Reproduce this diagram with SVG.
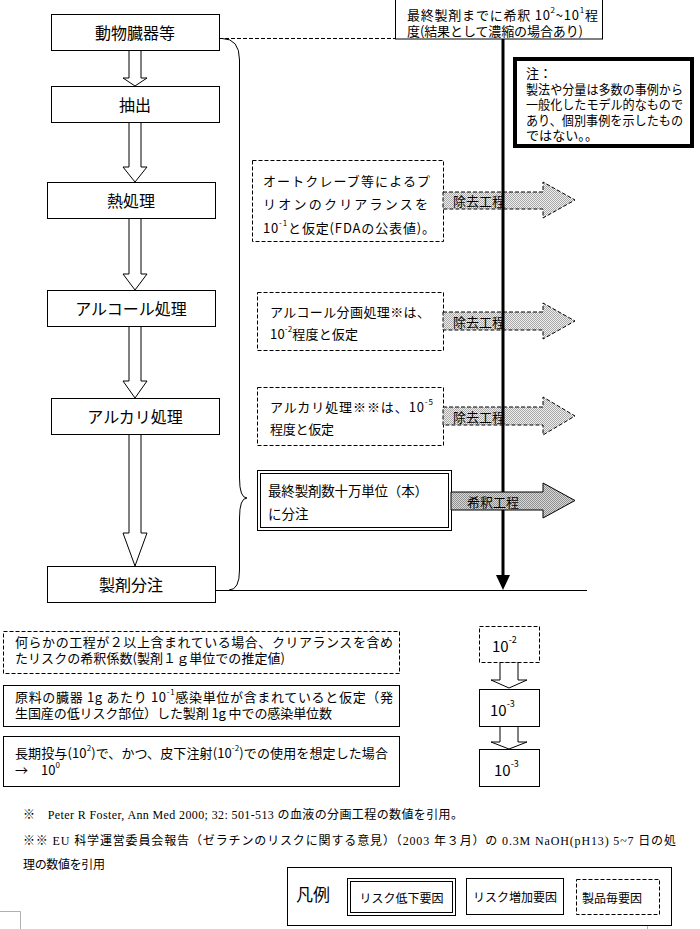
<svg xmlns="http://www.w3.org/2000/svg" width="700" height="929" viewBox="0 0 700 929">
<style>
.box{fill:#fff;stroke:#000;stroke-width:1}
.dash{fill:#fff;stroke:#000;stroke-width:1;stroke-dasharray:4 2}
.hol{fill:#fff;stroke:#000;stroke-width:1}
.t{font-family:"Noto Sans CJK JP","Noto Sans CJK SC",sans-serif;fill:#000}
.m{font-size:16px;text-anchor:middle}
.s13{font-size:13px}
.s12{font-size:12px}
.sup{font-size:8px;baseline-shift:5px}
.sup9{font-size:9px;baseline-shift:6px}
.fn{font-family:"Liberation Serif","Noto Sans CJK JP",serif;font-size:12px;fill:#000}
.crop{stroke:#b0b0b0;stroke-width:1;fill:none}
</style>
<defs>
<pattern id="dotsL" width="2" height="2" patternUnits="userSpaceOnUse"><rect width="2" height="2" fill="#eeeeee"/><rect width="1" height="1" fill="#a8a8a8"/><rect x="1" y="1" width="1" height="1" fill="#a8a8a8"/></pattern>
<pattern id="dotsD" width="2" height="2" patternUnits="userSpaceOnUse"><rect width="2" height="2" fill="#d8d8d8"/><rect width="1" height="1" fill="#909090"/><rect x="1" y="1" width="1" height="1" fill="#909090"/></pattern>
</defs>
<rect width="700" height="929" fill="#fff"/>

<!-- crop marks -->
<path class="crop" d="M0 911.5H20.5V929M647.5 914V929M659 908.5H671"/>

<!-- connectors -->
<g id="connectors">
<polygon class="hol" points="129,50 141,50 141,78 147,78 135,86 123,78 129,78"/>
<polygon class="hol" points="129,122 141,122 141,167 147,167 135,182 123,167 129,167"/>
<polygon class="hol" points="129,218 141,218 141,274 147,274 135,290 123,274 129,274"/>
<polygon class="hol" points="129,326 141,326 141,381 147,381 135,398 123,381 129,381"/>
<polygon class="hol" points="129,434 141,434 141,533 147,533 135,566 123,533 129,533"/>
<line x1="219" y1="38.5" x2="395" y2="38.5" stroke="#000" stroke-width="1" stroke-dasharray="4 2"/>
<path d="M222 38.5Q239.5 38.5 239.5 60V478Q239.5 498 247 498Q239.5 498 239.5 518V570Q239.5 590 229 590" fill="none" stroke="#000" stroke-width="1"/>
<line x1="215" y1="590.5" x2="587" y2="590.5" stroke="#000" stroke-width="1"/>
<polygon class="hol" points="500,662 518,662 518,680 527,680 509,688 491,680 500,680"/>
<polygon class="hol" points="500,726 518,726 518,742 527,742 509,749 491,742 500,742"/>
</g>

<!-- left column -->
<g id="n-animal"><rect class="box" x="51.5" y="14.5" width="168" height="36"/><text class="t m" x="135" y="32" dominant-baseline="central">動物臓器等</text></g>
<g id="n-extract"><rect class="box" x="51.5" y="86.5" width="168" height="36"/><text class="t m" x="135" y="104" dominant-baseline="central">抽出</text></g>
<g id="n-heat"><rect class="box" x="47.5" y="182.5" width="168" height="36"/><text class="t m" x="131" y="200" dominant-baseline="central">熱処理</text></g>
<g id="n-alcohol"><rect class="box" x="47.5" y="290.5" width="168" height="36"/><text class="t m" x="131" y="308" dominant-baseline="central">アルコール処理</text></g>
<g id="n-alkali"><rect class="box" x="51.5" y="398.5" width="168" height="36"/><text class="t m" x="135" y="416" dominant-baseline="central">アルカリ処理</text></g>
<g id="n-fill"><rect class="box" x="47.5" y="566.5" width="168" height="36"/><text class="t m" x="131" y="584" dominant-baseline="central">製剤分注</text></g>

<!-- top right box -->
<g id="n-dilution-note"><rect class="box" x="395.5" y="-2" width="207" height="41"/>
<text class="t" font-size="13" x="407" y="14" dominant-baseline="central" textLength="191" lengthAdjust="spacing">最終製剤までに希釈 10<tspan class="sup">2</tspan>~10<tspan class="sup">1</tspan>程</text>
<text class="t" font-size="13" x="407" y="30" dominant-baseline="central" textLength="176" lengthAdjust="spacing">度(結果として濃縮の場合あり)</text>
</g>

<!-- note box -->
<g id="n-note"><rect x="515" y="59" width="177" height="87" fill="#fff" stroke="#000" stroke-width="4"/>
<text class="t s13" x="526" y="72" dominant-baseline="central">注：</text>
<text class="t s13" x="526" y="88" dominant-baseline="central" textLength="157" lengthAdjust="spacingAndGlyphs">製法や分量は多数の事例から</text>
<text class="t s13" x="526" y="103.5" dominant-baseline="central" textLength="157" lengthAdjust="spacingAndGlyphs">一般化したモデル的なもので</text>
<text class="t s13" x="526" y="119" dominant-baseline="central" textLength="157" lengthAdjust="spacingAndGlyphs">あり、個別事例を示したもの</text>
<text class="t s13" x="526" y="134.5" dominant-baseline="central" textLength="72" lengthAdjust="spacingAndGlyphs">ではない。。</text>
</g>

<!-- dashed boxes -->
<g id="n-autoclave"><rect class="dash" x="252.5" y="160.5" width="191" height="81"/>
<text class="t s13" x="263" y="180" dominant-baseline="central" textLength="167" lengthAdjust="spacing">オートクレーブ等によるプ</text>
<text class="t s13" x="263" y="203" dominant-baseline="central" textLength="165" lengthAdjust="spacing">リオンのクリアランスを</text>
<text class="t s13" x="263" y="227" dominant-baseline="central" textLength="172" lengthAdjust="spacing">10<tspan class="sup">-1</tspan>と仮定(FDAの公表値)。</text>
</g>
<g id="n-alcohol-frac"><rect class="dash" x="257.5" y="292.5" width="186" height="58"/>
<text class="t s13" x="270" y="311" dominant-baseline="central" textLength="160" lengthAdjust="spacing">アルコール分画処理※は、</text>
<text class="t s13" x="270" y="333" dominant-baseline="central" textLength="88" lengthAdjust="spacing">10<tspan class="sup">-2</tspan>程度と仮定</text>
</g>
<g id="n-alkali-proc"><rect class="dash" x="257.5" y="387.5" width="186" height="58"/>
<text class="t s13" x="270" y="406" dominant-baseline="central" textLength="163" lengthAdjust="spacing">アルカリ処理※※は、10<tspan class="sup">-5</tspan></text>
<text class="t s13" x="270" y="428" dominant-baseline="central" textLength="64" lengthAdjust="spacing">程度と仮定</text>
</g>

<!-- removal arrows -->
<g id="e-removal-1"><polygon points="443,192 543,192 543,182 575,200 543,218 543,209 443,209" fill="url(#dotsL)" stroke="#000" stroke-width="1" stroke-dasharray="4 2"/><text class="t s13" x="453" y="200" dominant-baseline="central">除去工程</text></g>
<g id="e-removal-2"><polygon points="443,312 543,312 543,303 575,321 543,339 543,330 443,330" fill="url(#dotsL)" stroke="#000" stroke-width="1" stroke-dasharray="4 2"/><text class="t s13" x="453" y="321" dominant-baseline="central">除去工程</text></g>
<g id="e-removal-3"><polygon points="443,407 543,407 543,397 575,416 543,435 543,425 443,425" fill="url(#dotsL)" stroke="#000" stroke-width="1" stroke-dasharray="4 2"/><text class="t s13" x="453" y="416" dominant-baseline="central">除去工程</text></g>

<!-- thick vertical line -->
<g id="e-main-line">
<line x1="503" y1="39" x2="503" y2="577" stroke="#000" stroke-width="3"/>
<polygon points="496,575 510,575 503,590" fill="#000"/>
</g>

<!-- final filling box -->
<g id="n-final"><rect class="box" x="257.5" y="470.5" width="194" height="60"/><rect class="box" x="260.5" y="473.5" width="188" height="54"/>
<text class="t" font-size="13.5" x="268" y="490" dominant-baseline="central" textLength="160" lengthAdjust="spacing">最終製剤数十万単位（本）</text>
<text class="t" font-size="13.5" x="268" y="513" dominant-baseline="central">に分注</text>
</g>
<g id="e-dilution"><polygon points="451,492 543,492 543,483 575,500.5 543,518 543,510 451,510" fill="url(#dotsD)" stroke="#000" stroke-width="1"/><text class="t s13" x="467" y="501" dominant-baseline="central">希釈工程</text></g>

<!-- bottom left boxes -->
<g id="n-risk-dilution"><rect class="dash" x="3.5" y="631.5" width="396" height="42"/>
<text class="t s13" x="15" y="641" dominant-baseline="central" textLength="378" lengthAdjust="spacing">何らかの工程が２以上含まれている場合、クリアランスを含め</text>
<text class="t s13" x="15" y="657" dominant-baseline="central" textLength="270" lengthAdjust="spacing">たリスクの希釈係数(製剤１ｇ単位での推定値)</text>
</g>
<g id="n-infect-units"><rect class="box" x="3.5" y="685.5" width="396" height="41"/>
<text class="t s13" x="15" y="696" dominant-baseline="central" textLength="378" lengthAdjust="spacing">原料の臓器 1g あたり 10<tspan class="sup">-1</tspan>感染単位が含まれていると仮定（発</text>
<text class="t s13" x="15" y="712" dominant-baseline="central" textLength="317" lengthAdjust="spacing">生国産の低リスク部位）した製剤 1g 中での感染単位数</text>
</g>
<g id="n-long-term"><rect class="box" x="3.5" y="736.5" width="396" height="50"/>
<text class="t s13" x="15" y="752" dominant-baseline="central" textLength="373" lengthAdjust="spacing">長期投与(10<tspan class="sup">2</tspan>)で、かつ、皮下注射(10<tspan class="sup">-2</tspan>)での使用を想定した場合</text>
<text class="t s13" x="15" y="769" dominant-baseline="central">→　10<tspan class="sup">0</tspan></text>
</g>

<!-- bottom right boxes -->
<g id="n-v1"><rect class="dash" x="479.5" y="626.5" width="60" height="36"/><text class="t" font-size="15" x="492" y="645" dominant-baseline="central">10<tspan class="sup9">-2</tspan></text></g>
<g id="n-v2"><rect class="box" x="479.5" y="689.5" width="60" height="37"/><text class="t" font-size="15" x="490" y="709" dominant-baseline="central">10<tspan class="sup9">-3</tspan></text></g>
<g id="n-v3"><rect class="box" x="479.5" y="749.5" width="60" height="37"/><text class="t" font-size="15" x="494" y="769" dominant-baseline="central">10<tspan class="sup9">-3</tspan></text></g>

<!-- footnotes -->
<g id="footnotes">
<text class="fn" x="23" y="815" dominant-baseline="central" textLength="440" lengthAdjust="spacing">※　Peter R Foster, Ann Med 2000; 32: 501-513 の血液の分画工程の数値を引用。</text>
<text class="fn" x="23" y="841" dominant-baseline="central" textLength="653" lengthAdjust="spacing">※※ EU 科学運営委員会報告（ゼラチンのリスクに関する意見）（2003 年３月）の 0.3M NaOH(pH13) 5~7 日の処</text>
<text class="fn" x="23" y="865" dominant-baseline="central" textLength="82" lengthAdjust="spacing">理の数値を引用</text>
</g>

<!-- legend -->
<g id="legend">
<rect class="box" x="287.5" y="867.5" width="384" height="58"/>
<text class="t" font-size="17" x="296" y="893" dominant-baseline="central">凡例</text>
<rect class="box" x="347.5" y="878.5" width="108" height="37"/><rect class="box" x="350.5" y="881.5" width="102" height="31"/>
<text class="t s12" x="401.5" y="897" text-anchor="middle" dominant-baseline="central">リスク低下要因</text>
<rect class="box" x="466.5" y="878.5" width="97" height="36"/>
<text class="t s12" x="515" y="896" text-anchor="middle" dominant-baseline="central">リスク増加要因</text>
<rect class="dash" x="576.5" y="879.5" width="83" height="35"/>
<text class="t s12" x="612" y="897" text-anchor="middle" dominant-baseline="central">製品毎要因</text>
</g>
</svg>
